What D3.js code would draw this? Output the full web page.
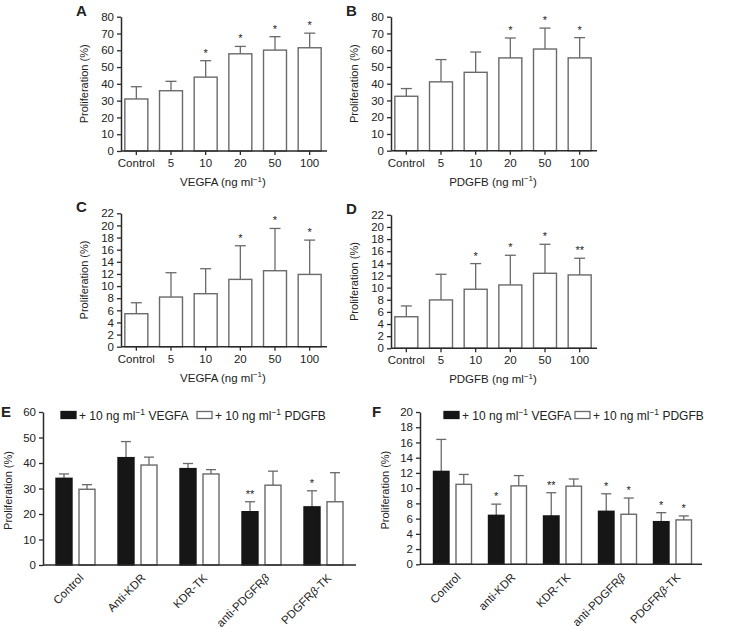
<!DOCTYPE html>
<html>
<head>
<meta charset="utf-8">
<script src="https://cdn.jsdelivr.net/npm/d3@7"></script>
<style>
  html, body { margin: 0; padding: 0; background: #fff; }
  svg { opacity: 0.999; }
  svg text { font-family: "Liberation Sans", Arial, sans-serif; fill: #222; }
</style>
</head>
<body>
<svg id="chart" width="731" height="629"></svg>
<script>
// ---------------- DATA ----------------
const doseCategories = ["Control", "5", "10", "20", "50", "100"];

const aValues = [31.0, 35.9, 44.0, 57.9, 60.1, 61.5];
const aErrors = [7.3, 5.6, 9.8, 4.4, 8.0, 8.7];
const aStars  = ["", "", "*", "*", "*", "*"];

const bValues = [32.5, 41.1, 46.8, 55.4, 60.7, 55.4];
const bErrors = [4.6, 13.3, 12.1, 11.9, 12.5, 12.1];
const bStars  = ["", "", "", "*", "*", "*"];

const cValues = [5.44, 8.19, 8.74, 11.1, 12.53, 11.92];
const cErrors = [1.81, 4.01, 4.12, 5.55, 6.97, 5.66];
const cStars  = ["", "", "", "*", "*", "*"];

const dValues = [5.2, 7.97, 9.73, 10.44, 12.36, 12.09];
const dErrors = [1.78, 4.23, 4.23, 4.89, 4.78, 2.75];
const dStars  = ["", "", "*", "*", "*", "**"];

const ticks0to80 = [0, 10, 20, 30, 40, 50, 60, 70, 80];
const ticks0to22 = [0, 2, 4, 6, 8, 10, 12, 14, 16, 18, 20, 22];
const ticks0to60 = [0, 10, 20, 30, 40, 50, 60];
const ticks0to20 = [0, 2, 4, 6, 8, 10, 12, 14, 16, 18, 20];

const eCategories = ["Control", "Anti-KDR", "KDR-TK", "anti-PDGFRβ", "PDGFRβ-TK"];
const eVegfa      = [34.0, 42.1, 37.8, 20.9, 22.8];
const eVegfaErr   = [1.7, 6.3, 2.0, 3.9, 6.3];
const eVegfaStars = ["", "", "", "**", "*"];
const ePdgfb      = [29.7, 39.2, 35.7, 31.3, 24.8];
const ePdgfbErr   = [1.8, 3.1, 1.7, 5.5, 11.4];
const ePdgfbStars = ["", "", "", "", ""];

const fCategories = ["Control", "anti-KDR", "KDR-TK", "anti-PDGFRβ", "PDGFRβ-TK"];
const fVegfa      = [12.2, 6.43, 6.35, 6.96, 5.6];
const fVegfaErr   = [4.2, 1.47, 3.05, 2.3, 1.18];
const fVegfaStars = ["", "*", "**", "*", "*"];
const fPdgfb      = [10.5, 10.3, 10.26, 6.57, 5.83];
const fPdgfbErr   = [1.3, 1.35, 0.94, 2.13, 0.52];
const fPdgfbStars = ["", "", "", "*", "*"];

const seriesNames = ["VEGFA", "PDGFB"];

// ---------------- STYLE ----------------
const AXIS = "#2a2a2a";
const BAR_STROKE = "#6a6a6a";
const BLACK = "#161616";
const FS = 11.5;

const svg = d3.select("#chart");

function addUnitTitle(g, x, y, name) {
  const t = g.append("text").attr("x", x).attr("y", y)
    .attr("text-anchor", "middle").attr("font-size", FS);
  t.append("tspan").text(name + " (ng ml");
  t.append("tspan").attr("font-size", 8).attr("dy", -4.5).text("−1");
  t.append("tspan").attr("dy", 4.5).text(")");
}

function addLabelText(sel, label) {
  const parts = label.split("β");
  parts.forEach((p, i) => {
    if (p) sel.append("tspan").text(p);
    if (i < parts.length - 1) sel.append("tspan").attr("font-style", "italic").text("β");
  });
}

function yAxisDraw(g, y, xPos, tickVals) {
  const ax = d3.axisLeft(y).tickValues(tickVals).tickSize(4).tickSizeOuter(0).tickPadding(3);
  const ga = g.append("g").attr("transform", `translate(${xPos},0)`).call(ax);
  ga.select(".domain").attr("stroke", AXIS).attr("stroke-width", 1.5);
  ga.selectAll(".tick line").attr("stroke", AXIS).attr("stroke-width", 1.3);
  ga.selectAll(".tick text").attr("font-size", FS).attr("fill", "#222")
    .attr("font-family", "Liberation Sans, Arial, sans-serif");
}

function yTitle(g, x, yc) {
  g.append("text").attr("transform", `translate(${x},${yc}) rotate(-90)`)
    .attr("text-anchor", "middle").attr("font-size", 11).text("Proliferation (%)");
}

function panelLetter(g, letter, x, y) {
  g.append("text").attr("x", x).attr("y", y).attr("font-size", 15)
    .attr("font-weight", "bold").attr("fill", "#111").text(letter);
}

function errBar(g, cx, yTop, yEnd, capW) {
  g.append("line").attr("x1", cx).attr("x2", cx).attr("y1", yTop).attr("y2", yEnd)
    .attr("stroke", BAR_STROKE).attr("stroke-width", 1.3);
  g.append("line").attr("x1", cx - capW / 2).attr("x2", cx + capW / 2).attr("y1", yEnd).attr("y2", yEnd)
    .attr("stroke", BAR_STROKE).attr("stroke-width", 1.3);
}

// --------- Single-series panels (A-D) ---------
function dosePanel(opt) {
  const g = svg.append("g");
  const x = d3.scaleBand().domain(doseCategories).range([opt.x0, opt.x1])
    .paddingInner(0.337).paddingOuter(0.337 / 2);
  const y = d3.scaleLinear().domain([0, opt.ymax]).range([opt.yBottom, opt.yTop]);

  doseCategories.forEach((c, i) => {
    const v = opt.values[i], e = opt.errors[i];
    const cx = x(c) + x.bandwidth() / 2;
    errBar(g, cx, y(v), y(v + e), 11);
    g.append("rect").attr("x", x(c)).attr("y", y(v)).attr("width", x.bandwidth())
      .attr("height", y(0) - y(v)).attr("fill", "#fff")
      .attr("stroke", BAR_STROKE).attr("stroke-width", 1.4);
    if (opt.stars[i]) {
      g.append("text").attr("x", cx).attr("y", y(v + e) - 4).attr("text-anchor", "middle")
        .attr("font-size", 11).text(opt.stars[i]);
    }
  });

  yAxisDraw(g, y, opt.axisX, opt.ticks);

  const xa = d3.axisBottom(x).tickSize(4).tickSizeOuter(0).tickPadding(4);
  const gx = g.append("g").attr("transform", `translate(0,${opt.yBottom})`).call(xa);
  gx.select(".domain").remove();
  gx.selectAll(".tick line").attr("stroke", AXIS).attr("stroke-width", 1.3);
  gx.selectAll(".tick text").attr("font-size", FS).attr("fill", "#222")
    .attr("font-family", "Liberation Sans, Arial, sans-serif");
  g.append("line").attr("x1", opt.axisX).attr("x2", opt.x1).attr("y1", opt.yBottom).attr("y2", opt.yBottom)
    .attr("stroke", AXIS).attr("stroke-width", 1.5);

  addUnitTitle(g, (opt.x0 + opt.x1) / 2, opt.yBottom + 35, opt.factor);
  yTitle(g, opt.axisX - 33, (opt.yTop + opt.yBottom) / 2);
  panelLetter(g, opt.letter, opt.axisX - 45, opt.yTop - 1);
}

dosePanel({ letter: "A", factor: "VEGFA", values: aValues, errors: aErrors, stars: aStars,
  ticks: ticks0to80, ymax: 80, x0: 119, x1: 327, axisX: 121, yTop: 16.7, yBottom: 151 });
dosePanel({ letter: "B", factor: "PDGFB", values: bValues, errors: bErrors, stars: bStars,
  ticks: ticks0to80, ymax: 80, x0: 389, x1: 597, axisX: 391, yTop: 16.7, yBottom: 150.7 });
dosePanel({ letter: "C", factor: "VEGFA", values: cValues, errors: cErrors, stars: cStars,
  ticks: ticks0to22, ymax: 22, x0: 119, x1: 327, axisX: 121, yTop: 213.3, yBottom: 346.7 });
dosePanel({ letter: "D", factor: "PDGFB", values: dValues, errors: dErrors, stars: dStars,
  ticks: ticks0to22, ymax: 22, x0: 389, x1: 597, axisX: 391, yTop: 214.8, yBottom: 348.3 });

// --------- Grouped panels (E, F) ---------
function groupedPanel(opt) {
  const g = svg.append("g");
  const x = d3.scaleBand().domain(opt.categories).range([opt.x0, opt.x1]).paddingInner(0).paddingOuter(0);
  const pairW = opt.barW * 2 + 7;
  const xs = d3.scaleBand().domain(seriesNames).range([-pairW / 2, pairW / 2])
    .paddingInner(7 / (opt.barW + 7)).paddingOuter(0);
  const y = d3.scaleLinear().domain([0, opt.ymax]).range([opt.yBottom, opt.yTop]);

  const series = [
    { name: "VEGFA", values: opt.vegfa, errors: opt.vegfaErr, stars: opt.vegfaStars, fill: BLACK, stroke: BLACK },
    { name: "PDGFB", values: opt.pdgfb, errors: opt.pdgfbErr, stars: opt.pdgfbStars, fill: "#fff", stroke: BAR_STROKE }
  ];

  opt.categories.forEach((c, i) => {
    const gc = x(c) + x.bandwidth() / 2;
    series.forEach(s => {
      const v = s.values[i], e = s.errors[i];
      const bx = gc + xs(s.name);
      const cx = bx + xs.bandwidth() / 2;
      errBar(g, cx, y(v), y(v + e), 10);
      g.append("rect").attr("x", bx).attr("y", y(v)).attr("width", xs.bandwidth())
        .attr("height", y(0) - y(v)).attr("fill", s.fill)
        .attr("stroke", s.stroke).attr("stroke-width", 1.4);
      if (s.stars[i]) {
        g.append("text").attr("x", cx).attr("y", y(v + e) - 4).attr("text-anchor", "middle")
          .attr("font-size", 11).text(s.stars[i]);
      }
    });
    const t = g.append("text")
      .attr("transform", `translate(${gc + 3},${opt.yBottom + 8}) rotate(-45)`)
      .attr("text-anchor", "end").attr("dy", "0.7em").attr("font-size", FS);
    addLabelText(t, c);
  });

  yAxisDraw(g, y, opt.axisX, opt.ticks);
  g.append("line").attr("x1", opt.axisX).attr("x2", opt.axisEnd).attr("y1", opt.yBottom).attr("y2", opt.yBottom)
    .attr("stroke", AXIS).attr("stroke-width", 1.5);

  yTitle(g, opt.axisX - 31, (opt.yTop + opt.yBottom) / 2 + 2);
  panelLetter(g, opt.letter, opt.letterX, opt.yTop + 5);

  const ly = opt.yTop + 3;
  const legendItems = [
    { name: "VEGFA", x: opt.legX[0], fill: BLACK, stroke: BLACK },
    { name: "PDGFB", x: opt.legX[1], fill: "#fff", stroke: BAR_STROKE }
  ];
  legendItems.forEach(it => {
    g.append("rect").attr("x", it.x).attr("y", ly - 3.5).attr("width", 15).attr("height", 7)
      .attr("fill", it.fill).attr("stroke", it.stroke).attr("stroke-width", 1.3);
    const t = g.append("text").attr("x", it.x + 18).attr("y", ly + 4.5).attr("font-size", 12);
    t.append("tspan").text("+ 10 ng ml");
    t.append("tspan").attr("font-size", 8.5).attr("dy", -5).text("−1");
    t.append("tspan").attr("dy", 5).text(" " + it.name);
  });
}

groupedPanel({ letter: "E", letterX: 1, categories: eCategories,
  vegfa: eVegfa, vegfaErr: eVegfaErr, vegfaStars: eVegfaStars,
  pdgfb: ePdgfb, pdgfbErr: ePdgfbErr, pdgfbStars: ePdgfbStars,
  ticks: ticks0to60, ymax: 60, x0: 44.5, x1: 354.5, axisX: 43, axisEnd: 356,
  yTop: 412, yBottom: 565, barW: 16, legX: [61, 197] });

groupedPanel({ letter: "F", letterX: 372, categories: fCategories,
  vegfa: fVegfa, vegfaErr: fVegfaErr, vegfaStars: fVegfaStars,
  pdgfb: fPdgfb, pdgfbErr: fPdgfbErr, pdgfbStars: fPdgfbStars,
  ticks: ticks0to20, ymax: 20, x0: 425, x1: 700, axisX: 420, axisEnd: 702,
  yTop: 412, yBottom: 564.3, barW: 15.5, legX: [444, 575] });
</script>
</body>
</html>
